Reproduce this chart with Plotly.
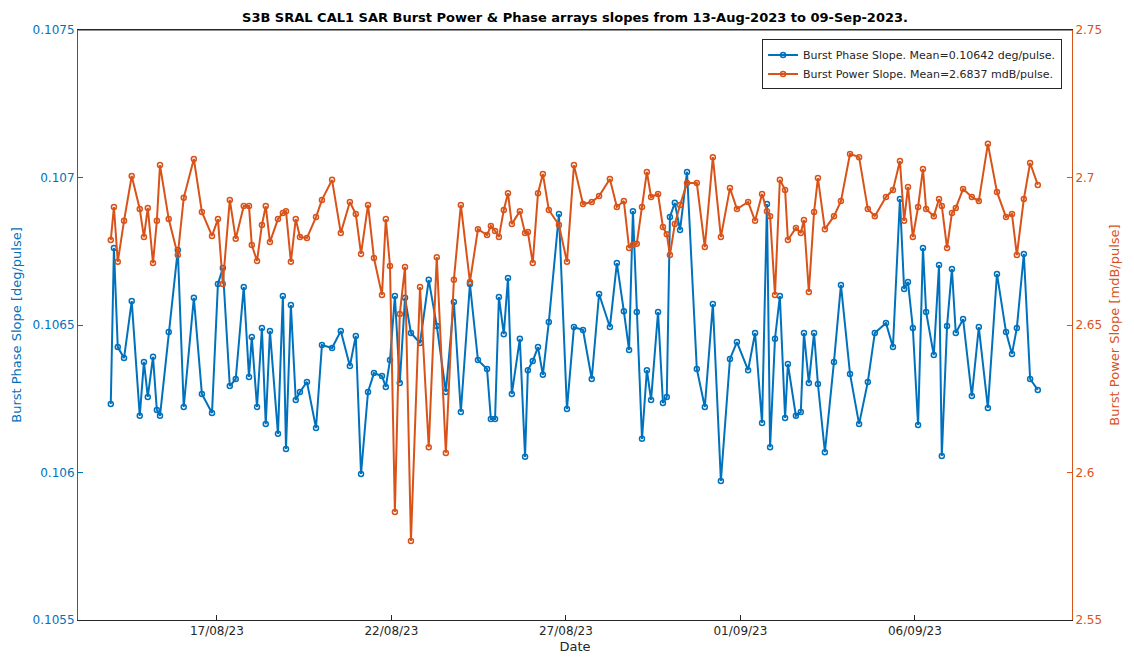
import pandas as pd
import plotly.graph_objects as go

# days since 13-Aug-2023 00:00 for each burst measurement
day_offset = [
    0.96, 1.05, 1.16, 1.34, 1.56, 1.79, 1.91, 2.02, 2.17, 2.28,
    2.37, 2.62, 2.88, 3.05, 3.34, 3.57, 3.86, 4.03, 4.17, 4.37,
    4.54, 4.77, 4.92, 5.00, 5.15, 5.29, 5.40, 5.52, 5.75, 5.89,
    5.98, 6.12, 6.26, 6.38, 6.58, 6.84, 7.01, 7.30, 7.55, 7.81,
    7.98, 8.13, 8.33, 8.50, 8.73, 8.84, 8.96, 9.10, 9.24, 9.39,
    9.56, 9.82, 10.07, 10.30, 10.56, 10.79, 10.99, 11.25, 11.48, 11.74,
    11.85, 11.97, 12.08, 12.22, 12.34, 12.45, 12.68, 12.83, 12.91, 13.05,
    13.20, 13.34, 13.51, 13.80, 14.03, 14.23, 14.49, 14.74, 14.95, 15.26,
    15.46, 15.66, 15.81, 15.92, 16.03, 16.18, 16.32, 16.44, 16.64, 16.78,
    16.89, 16.98, 17.12, 17.27, 17.47, 17.75, 17.98, 18.21, 18.44, 18.70,
    18.90, 19.22, 19.42, 19.62, 19.76, 19.85, 19.99, 20.13, 20.28, 20.36,
    20.59, 20.73, 20.82, 20.96, 21.11, 21.22, 21.42, 21.68, 21.88, 22.14,
    22.40, 22.65, 22.85, 23.17, 23.37, 23.57, 23.69, 23.80, 23.94, 24.09,
    24.23, 24.32, 24.54, 24.69, 24.77, 24.92, 25.06, 25.17, 25.38, 25.63,
    25.83, 26.09, 26.35, 26.61, 26.78, 26.92, 27.12, 27.30, 27.52,
]

# burst phase slope, units of 1e-4 deg/pulse
phase_e4 = [
    1062.32, 1067.61, 1064.25, 1063.88, 1065.81, 1061.92, 1063.75, 1062.56, 1063.92, 1062.12,
    1061.92, 1064.76, 1067.54, 1062.22, 1065.92, 1062.66, 1062.02, 1066.39, 1066.93, 1062.93,
    1063.17, 1066.29, 1063.24, 1064.59, 1062.22, 1064.90, 1061.64, 1064.80, 1061.31, 1065.98,
    1060.80, 1065.68, 1062.46, 1062.73, 1063.07, 1061.51, 1064.32, 1064.22, 1064.80, 1063.61,
    1064.63, 1059.95, 1062.73, 1063.37, 1063.27, 1062.90, 1063.81, 1065.98, 1063.03, 1065.92,
    1064.73, 1064.39, 1066.53, 1064.97, 1062.73, 1065.78, 1062.05, 1066.39, 1063.81, 1063.51,
    1061.81, 1061.81, 1065.95, 1064.69, 1066.59, 1062.66, 1064.53, 1060.53, 1063.47, 1063.78,
    1064.25, 1063.31, 1065.10, 1068.76, 1062.15, 1064.93, 1064.83, 1063.17, 1066.05, 1064.93,
    1067.10, 1065.47, 1064.15, 1068.86, 1065.44, 1061.14, 1063.47, 1062.46, 1065.44, 1062.36,
    1062.56, 1068.66, 1069.14, 1068.22, 1070.19, 1063.51, 1062.22, 1065.71, 1059.71, 1063.85,
    1064.42, 1063.47, 1064.73, 1061.68, 1069.10, 1060.86, 1064.53, 1065.98, 1061.85, 1063.68,
    1061.92, 1062.05, 1064.73, 1063.03, 1064.73, 1063.00, 1060.69, 1063.75, 1066.36, 1063.34,
    1061.64, 1063.07, 1064.73, 1065.07, 1064.25, 1069.27, 1066.22, 1066.46, 1064.90, 1061.61,
    1067.61, 1065.44, 1063.98, 1067.03, 1060.56, 1064.97, 1066.90, 1064.73, 1065.20, 1062.59,
    1064.93, 1062.19, 1066.73, 1064.76, 1064.02, 1064.90, 1067.41, 1063.17, 1062.80,
]

# burst power slope, units of 1e-3 dB/pulse
power_e3 = [
    2678.8, 2690.0, 2671.4, 2685.3, 2700.5, 2689.3, 2679.8, 2689.7, 2671.0, 2685.3,
    2704.2, 2685.9, 2673.7, 2693.1, 2706.3, 2688.3, 2680.2, 2685.9, 2663.9, 2692.4,
    2679.2, 2690.3, 2690.3, 2677.1, 2671.7, 2683.9, 2690.3, 2678.1, 2685.9, 2688.0,
    2688.6, 2671.4, 2685.9, 2679.8, 2679.5, 2686.6, 2692.4, 2699.2, 2681.2, 2691.7,
    2687.6, 2674.1, 2690.7, 2672.7, 2660.2, 2685.9, 2670.0, 2586.6, 2653.7, 2669.7,
    2576.8, 2662.9, 2608.6, 2673.0, 2606.6, 2665.3, 2690.7, 2664.6, 2682.5, 2680.5,
    2683.6, 2681.9, 2679.8, 2689.0, 2694.7, 2684.2, 2688.6, 2681.2, 2681.5, 2671.0,
    2694.7, 2701.2, 2689.0, 2683.9, 2671.4, 2704.2, 2691.0, 2691.7, 2693.7, 2699.5,
    2690.0, 2692.0, 2676.1, 2677.1, 2677.5, 2690.0, 2701.9, 2693.4, 2694.4, 2683.2,
    2680.8, 2673.7, 2684.2, 2690.7, 2698.1, 2698.1, 2676.4, 2706.9, 2679.8, 2696.4,
    2689.3, 2691.7, 2685.3, 2694.4, 2688.6, 2686.9, 2660.2, 2699.2, 2695.8, 2678.8,
    2682.9, 2681.2, 2685.6, 2661.2, 2688.3, 2699.8, 2682.5, 2686.9, 2692.0, 2708.0,
    2706.9, 2689.3, 2686.9, 2693.4, 2695.8, 2705.6, 2685.3, 2696.8, 2679.8, 2690.0,
    2702.9, 2689.3, 2686.9, 2692.7, 2690.3, 2676.1, 2688.0, 2689.7, 2696.1, 2693.4,
    2692.0, 2711.4, 2695.1, 2686.6, 2687.6, 2673.7, 2692.7, 2704.9, 2697.5,
]

if not (len(day_offset) == len(phase_e4) == len(power_e3)):
    raise SystemExit(f"lengths {len(day_offset)} {len(phase_e4)} {len(power_e3)}")

BLUE = "#0072BD"
ORANGE = "#D95319"
start = pd.Timestamp("2023-08-13")
dates = start + pd.to_timedelta(day_offset, unit="D")
phase = [v / 1e4 for v in phase_e4]
power = [v / 1e3 for v in power_e3]

fig = go.Figure()
fig.add_trace(go.Scatter(
    x=dates, y=phase, mode="lines+markers", name="Burst Phase Slope. Mean=0.10642 deg/pulse.",
    line=dict(color=BLUE, width=2),
    marker=dict(symbol="circle-open", size=5, color=BLUE, line=dict(width=1.5))))
fig.add_trace(go.Scatter(
    x=dates, y=power, mode="lines+markers", name="Burst Power Slope. Mean=2.6837 mdB/pulse.",
    yaxis="y2", line=dict(color=ORANGE, width=2),
    marker=dict(symbol="circle-open", size=5, color=ORANGE, line=dict(width=1.5))))

tickdates = pd.date_range("2023-08-17", "2023-09-06", freq="5D")
fig.update_layout(
    width=1134, height=661,
    margin=dict(l=70, r=70, t=22, b=49),
    paper_bgcolor="white", plot_bgcolor="white",
    font=dict(family="DejaVu Sans", size=12, color="#262626"),
    title=dict(text="<b>S3B SRAL CAL1 SAR Burst Power & Phase arrays slopes from 13-Aug-2023 to 09-Sep-2023.</b>",
               x=0.5, xref="paper", xanchor="center", y=0.986, yanchor="middle", font=dict(size=13, color="black")),
    xaxis=dict(range=[start + pd.Timedelta(hours=0.5), start + pd.Timedelta(days=28.5)],
               tickvals=tickdates, ticktext=[d.strftime("%d/%m/%y") for d in tickdates],
               showgrid=False, zeroline=False, showline=True, linecolor="#262626", mirror=True,
               ticks="inside", ticklen=5, tickcolor="#262626", automargin=False,
               title=dict(text="Date", standoff=4, font=dict(size=13))),
    yaxis=dict(range=[0.1055, 0.1075], tickvals=[0.1055, 0.106, 0.1065, 0.107, 0.1075],
               ticktext=["0.1055", "0.106", "0.1065", "0.107", "0.1075"],
               showgrid=False, zeroline=False, showline=True, linecolor=BLUE, automargin=False,
               ticks="inside", ticklen=5, tickcolor=BLUE, tickfont=dict(color=BLUE),
               title=dict(text="Burst Phase Slope [deg/pulse]", font=dict(color=BLUE, size=13), standoff=8)),
    yaxis2=dict(range=[2.55, 2.75], tickvals=[2.55, 2.6, 2.65, 2.7, 2.75],
                ticktext=["2.55", "2.6", "2.65", "2.7", "2.75"], overlaying="y", side="right",
                showgrid=False, zeroline=False, showline=True, linecolor=ORANGE, automargin=False,
                ticks="inside", ticklen=5, tickcolor=ORANGE, tickfont=dict(color=ORANGE),
                title=dict(text="Burst Power Slope [mdB/pulse]", font=dict(color=ORANGE, size=13), standoff=8)),
    legend=dict(x=0.99, y=0.984, xanchor="right", yanchor="top", bgcolor="white",
                bordercolor="#262626", borderwidth=1, font=dict(size=11), tracegroupgap=0),
    showlegend=True,
)
# top border of the axes box
fig.add_shape(type="line", xref="paper", yref="paper", x0=0, x1=1, y0=1, y1=1,
              line=dict(color="#262626", width=1))

fig.write_html("out.html")
